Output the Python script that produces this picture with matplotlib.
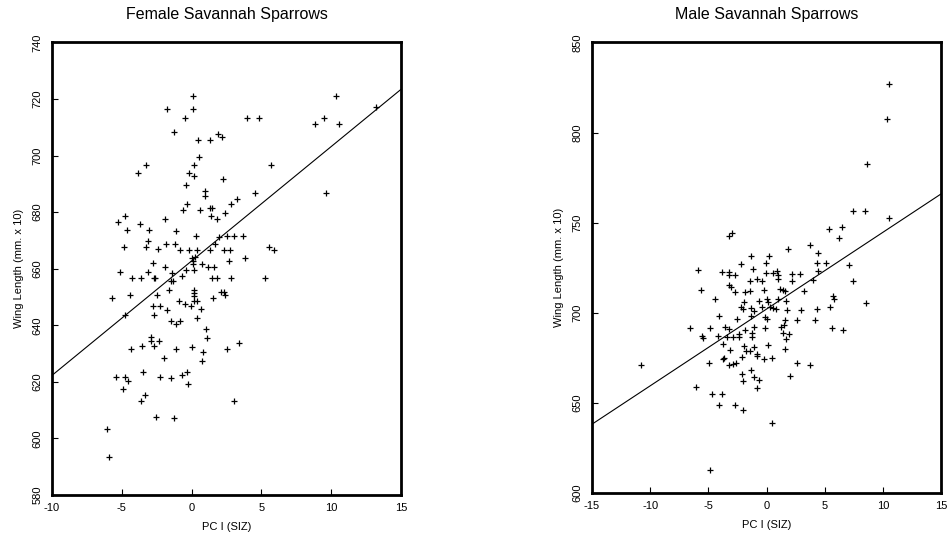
import numpy as np
import matplotlib
matplotlib.use("Agg")
import matplotlib.pyplot as plt

plt.rcParams['font.family'] = ['Liberation Sans', 'DejaVu Sans']
plt.rcParams['axes.unicode_minus'] = False

# Hembras: PC I (SIZ) y longitud del ala (mm x 10)
fem_pc = [-3.26, 0.15, 5.70, -3.86, -0.16, 0.20, 2.28, -0.37, 0.99, 0.97,
          4.57, 3.26, -0.35, 2.81, 1.33, 1.47, -0.63, 0.58, 2.38, -4.77,
          1.37, 1.85, -1.92, -5.25, -3.72, -4.65, -3.02, -1.14, 0.32, 1.99,
          2.57, 3.07, 3.71, -3.12, -4.82, -3.26, -1.83, -1.16, -2.38, -0.80,
          -0.18, 0.37, 1.33, 1.71, 2.33, 2.78, 5.58, 5.91, 0.01, 0.25,
          0.13, 3.86, 2.66, -2.76, -1.90, 0.08, 0.73, 1.21, 1.59, -0.40,
          0.20, -5.15, -3.10, -1.42, -4.24, -3.64, -2.71, -2.59, -0.71, 1.47,
          1.80, 2.81, 5.24, -1.49, -1.33, -5.68, -4.41, -2.47, -1.61, 0.20,
          0.15, 0.20, 1.56, 2.09, 2.31, 2.38, -0.90, -0.47, -0.06, 0.20,
          0.39, 0.66, -2.76, -2.26, -1.78, -2.69, -4.77, 0.37, -1.47, -1.09,
          -0.85, 1.06, 1.13, -2.93, -2.93, -2.33, -4.31, -3.55, -2.67, -1.09,
          0.06, 0.85, 2.57, 3.43, -1.97, 0.75, -3.48, -5.39, -4.79, -2.24,
          -1.47, -0.71, -0.32,
          0.09, -1.76, 0.09, -0.47, 3.98, 4.86, 10.38, 8.83, 9.48, 10.57,
          13.18, -1.23, 0.44, 1.33, 1.88, 2.16, 0.56, 9.62,
          -4.57, -0.23, -4.89, -3.33, -3.62, 3.05, -2.52, -1.23, -6.04, -5.94]
fem_ala = [696.7, 696.7, 696.7, 693.7, 693.7, 692.8, 691.6, 689.6, 687.6, 685.7,
           686.7, 684.6, 682.8, 682.8, 681.6, 681.6, 680.6, 680.6, 679.6, 678.7,
           678.7, 677.6, 677.5, 676.6, 675.9, 673.7, 673.7, 673.5, 671.5, 671.3,
           671.6, 671.6, 671.6, 669.9, 667.7, 667.7, 668.6, 668.6, 666.9, 666.7,
           666.7, 666.7, 666.7, 668.8, 666.7, 666.7, 667.6, 666.7, 663.7, 664.3,
           662.9, 663.7, 662.8, 661.9, 660.6, 661.7, 661.6, 660.7, 660.7, 659.6,
           659.6, 658.8, 658.8, 658.5, 656.8, 656.8, 656.8, 656.8, 657.6, 656.8,
           656.8, 656.8, 656.8, 655.7, 655.5, 649.7, 650.7, 650.8, 652.4, 652.6,
           651.4, 650.5, 649.7, 651.6, 651.6, 650.7, 648.7, 647.6, 646.7, 648.7,
           648.7, 645.9, 646.9, 646.9, 645.5, 643.7, 643.7, 642.6, 641.4, 640.5,
           641.4, 638.7, 635.5, 635.7, 634.6, 634.6, 631.6, 632.8, 632.6, 631.5,
           632.3, 630.6, 631.5, 633.6, 628.4, 627.5, 623.6, 621.6, 621.6, 621.6,
           621.4, 622.6, 623.4,
           721.2, 716.3, 716.3, 713.4, 713.4, 713.4, 721.2, 711.3, 713.4, 711.3,
           717.3, 708.3, 705.4, 705.4, 707.5, 706.6, 699.5, 686.6,
           620.4, 619.4, 617.5, 615.5, 613.4, 613.4, 607.5, 607.3, 603.4, 593.4]

# Machos
mac_pc = [7.45, 8.48, 5.41, 6.50, 6.22, -3.24, -2.93, 3.72, 1.83, 4.44,
          -1.32, 0.23, -2.15, -0.06, 4.30, 5.13, 7.05, -5.85, -3.82, -3.21,
          -2.75, -3.21, -1.15, -0.06, 0.57, 0.94, 0.97, 0.97, 2.15, 2.86,
          4.44, 4.01, -1.44, -0.81, -0.43, 2.23, -3.21, -3.01, -2.70, -1.81,
          -1.44, -0.20, 1.14, 1.43, 1.60, 3.21, -5.65, -4.42, -1.92, -0.66,
          0.00, 0.14, 1.03, 1.66, 5.73, 5.82, 8.57, -2.21, -2.01, -1.29,
          -1.06, -0.38, 0.28, 0.54, 0.80, 1.72, 2.95, 4.30, 5.50, -4.07,
          -2.50, -1.29, -0.09, 0.00, 1.57, 2.66, 4.21, -6.54, -4.88, -3.56,
          -3.21, -1.87, -1.09, -0.15, 1.23, 1.49, 5.67, 6.59, -5.51, -5.45,
          -4.13, -3.36, -2.87, -2.35, -2.35, -1.24, -1.24, 1.43, 1.95, 1.66,
          -3.73, -1.95, -1.06, 0.14, 1.57, -3.10, -1.78, -1.38, -0.81, -0.86,
          -3.64, -3.73, -2.12, -0.20, 0.51, -4.96, -3.21, -2.87, -2.64, 2.63,
          3.78, -1.35, -2.09, -1.04, -0.66, -2.01, 1.98, -6.02, -0.81, -4.70,
          -3.82, -4.07, -2.67, -2.01, 0.43,
          7.45, 10.52, 10.32, 8.60, 10.54, -10.75, -4.85]
mac_ala = [756.6, 756.6, 746.5, 747.7, 741.5, 742.6, 744.4, 737.6, 735.4, 733.3,
           731.7, 731.7, 727.0, 727.8, 727.4, 727.4, 726.5, 723.5, 722.8, 722.4,
           720.8, 720.8, 724.5, 722.2, 722.2, 722.9, 720.8, 718.5, 721.5, 721.5,
           723.4, 718.2, 717.6, 718.5, 717.4, 717.4, 715.2, 714.1, 711.7, 711.3,
           712.1, 712.6, 713.4, 712.6, 711.9, 712.2, 712.4, 707.4, 706.0, 706.7,
           707.4, 706.2, 707.4, 706.3, 709.3, 707.4, 705.4, 703.4, 702.3, 702.5,
           701.2, 703.0, 703.0, 702.8, 702.3, 701.5, 701.4, 702.3, 703.4, 698.2,
           696.5, 698.2, 697.8, 696.7, 696.0, 696.0, 696.0, 691.4, 691.4, 692.3,
           691.0, 690.4, 692.3, 691.4, 691.9, 693.2, 691.4, 690.3, 687.1, 686.2,
           687.1, 686.4, 686.4, 688.2, 686.7, 688.6, 686.4, 689.0, 687.9, 685.6,
           682.9, 681.6, 681.2, 682.3, 679.9, 679.2, 679.0, 679.0, 677.1, 676.0,
           675.1, 674.2, 675.5, 674.5, 674.7, 672.0, 671.2, 671.6, 672.0, 671.8,
           670.8, 668.1, 666.0, 664.2, 662.7, 662.0, 665.1, 659.0, 658.1, 654.9,
           654.9, 649.0, 649.0, 645.9, 638.7,
           717.6, 826.7, 807.5, 782.5, 752.7, 671.0, 612.8]

# Rectas de regresion (extremos)
fem_recta_x = [-10, 15]
fem_recta_y = [622.3, 723.4]
mac_recta_x = [-15, 15]
mac_recta_y = [638.1, 765.9]

fig = plt.figure(figsize=(9.49, 5.44), dpi=100)
ax1 = fig.add_axes([0.0548, 0.090, 0.3677, 0.832])
ax2 = fig.add_axes([0.6238, 0.094, 0.3678, 0.828])


def dibujar(ax, pc, ala, rx, ry, titulo, xlim, ylim, xt, yt):
    ax.plot(pc, ala, linestyle='none', marker='+', color='black',
            markersize=5, markeredgewidth=0.9)
    ax.plot(rx, ry, color='black', linewidth=0.8)
    ax.set_xlim(xlim)
    ax.set_ylim(ylim)
    ax.set_xticks(xt)
    ax.set_yticks(yt)
    ax.tick_params(direction='in', length=4, width=0.8, labelsize=8,
                   colors='black', pad=6)
    ax.tick_params(axis='y', labelrotation=90, pad=7)
    for lab in ax.get_yticklabels():
        lab.set_va('center')
    for s in ax.spines.values():
        s.set_linewidth(2.0)
    ax.set_title(titulo, fontsize=11.5, pad=17)
    ax.set_xlabel("PC I (SIZ)", fontsize=8, labelpad=6)
    ax.set_ylabel("Wing Length (mm. x 10)", fontsize=8, labelpad=6)


dibujar(ax1, fem_pc, fem_ala, fem_recta_x, fem_recta_y,
        "Female Savannah Sparrows", (-10, 15), (580, 740),
        np.arange(-10, 16, 5), np.arange(580, 741, 20))
dibujar(ax2, mac_pc, mac_ala, mac_recta_x, mac_recta_y,
        "Male Savannah Sparrows", (-15, 15), (600, 850),
        np.arange(-15, 16, 5), np.arange(600, 851, 50))

plt.savefig("out.png", dpi=100)
